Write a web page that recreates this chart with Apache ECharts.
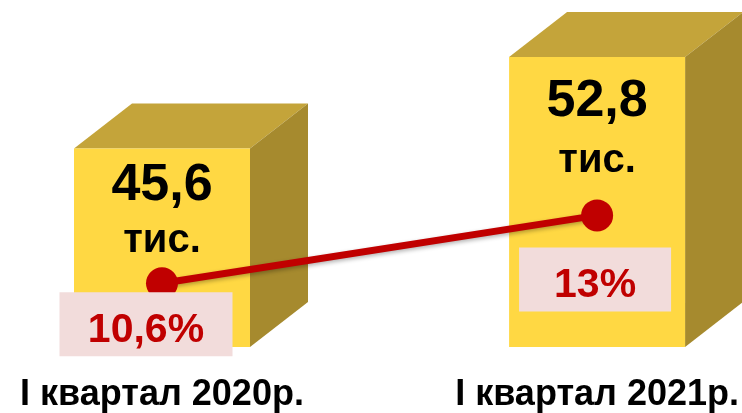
<!DOCTYPE html>
<html lang="uk">
<head>
  <meta charset="UTF-8">
  <title>Квартал</title>
  <style>
    html, body { margin: 0; padding: 0; background: #fff; }
    #main { width: 742px; height: 413px; }
  </style>
</head>
<body>
<div id="main"></div>
<script src="https://cdn.jsdelivr.net/npm/echarts@6/dist/echarts.min.js"></script>
<script>
  // data
  var categories = ['I квартал 2020р.', 'I квартал 2021р.'];
  var totals = [45.6, 52.8];          // тис.
  var totalLabels = ['45,6', '52,8'];
  var growth = [10.6, 13];            // %
  var growthLabels = ['10,6%', '13%'];

  var chart = echarts.init(document.getElementById('main'));

  var FONT = '"Liberation Sans", Arial, sans-serif';
  var barW = 176, depthX = 58, depthY = 45;
  var numOffset = [37, 45], unitOffset = [92, 104];
  var boxPos = [[0, 57], [14, 80]];
  var boxW = [173, 152];

  function renderCube(params, api) {
    var i = api.value(0);
    var top = api.coord([i, api.value(1)]);
    var base = api.coord([i, 30]);
    var x0 = top[0] - barW / 2, x1 = top[0] + barW / 2;
    var y0 = top[1], y1 = base[1];
    return {
      type: 'group',
      children: [
        { type: 'polygon', shape: { points: [[x0, y0], [x1, y0], [x1 + depthX, y0 - depthY], [x0 + depthX, y0 - depthY]] },
          style: { fill: '#C4A43A' } },
        { type: 'polygon', shape: { points: [[x1, y0], [x1 + depthX, y0 - depthY], [x1 + depthX, y1 - depthY], [x1, y1]] },
          style: { fill: '#A68A2E' } },
        { type: 'rect', shape: { x: x0, y: y0, width: barW, height: y1 - y0 },
          style: { fill: '#FFD843' } },
        { type: 'text', x: top[0], y: y0 + numOffset[i],
          style: { text: totalLabels[i], fill: '#000', font: 'bold 52px ' + FONT,
            align: 'center', verticalAlign: 'middle' } },
        { type: 'text', x: top[0], y: y0 + unitOffset[i],
          style: { text: 'тис.', fill: '#000', font: 'bold 40px ' + FONT,
            align: 'center', verticalAlign: 'middle' } }
      ]
    };
  }

  chart.setOption({
    animation: false,
    grid: { left: 162, right: 144, top: 10, bottom: 65 },
    xAxis: {
      type: 'category',
      data: categories,
      boundaryGap: false,
      axisLine: { show: false },
      axisTick: { show: false },
      axisLabel: {
        margin: 30,
        color: '#000',
        fontSize: 36,
        fontWeight: 'bold',
        fontFamily: FONT
      }
    },
    yAxis: [
      { type: 'value', min: 30, max: 56.5, show: false },
      { type: 'value', min: 10.6 - 64 / 28.33, max: 10.6 + 274 / 28.33, show: false }
    ],
    series: [
      {
        type: 'custom',
        renderItem: renderCube,
        data: totals.map(function (v, i) { return [i, v]; }),
        encode: { x: 0, y: 1 },
        z: 1
      },
      {
        type: 'line',
        yAxisIndex: 1,
        data: growth.map(function (v, i) {
          return {
            value: v,
            label: {
              position: boxPos[i],
              width: boxW[i],
              formatter: '{t|' + growthLabels[i] + '}'
            }
          };
        }),
        symbol: 'circle',
        symbolSize: 32,
        itemStyle: { color: '#C00000' },
        lineStyle: { color: '#C00000', width: 7, shadowColor: 'rgba(0,0,0,0.3)', shadowBlur: 4, shadowOffsetY: 2 },
        label: {
          show: true,
          align: 'center',
          verticalAlign: 'middle',
          backgroundColor: '#F2DCDB',
          rich: {
            t: {
              color: '#C00000',
              fontSize: 41,
              fontWeight: 'bold',
              fontFamily: FONT,
              height: 64,
              lineHeight: 64,
              padding: [12, 0, 0, 0]
            }
          }
        },
        z: 3
      }
    ]
  });
</script>
</body>
</html>
